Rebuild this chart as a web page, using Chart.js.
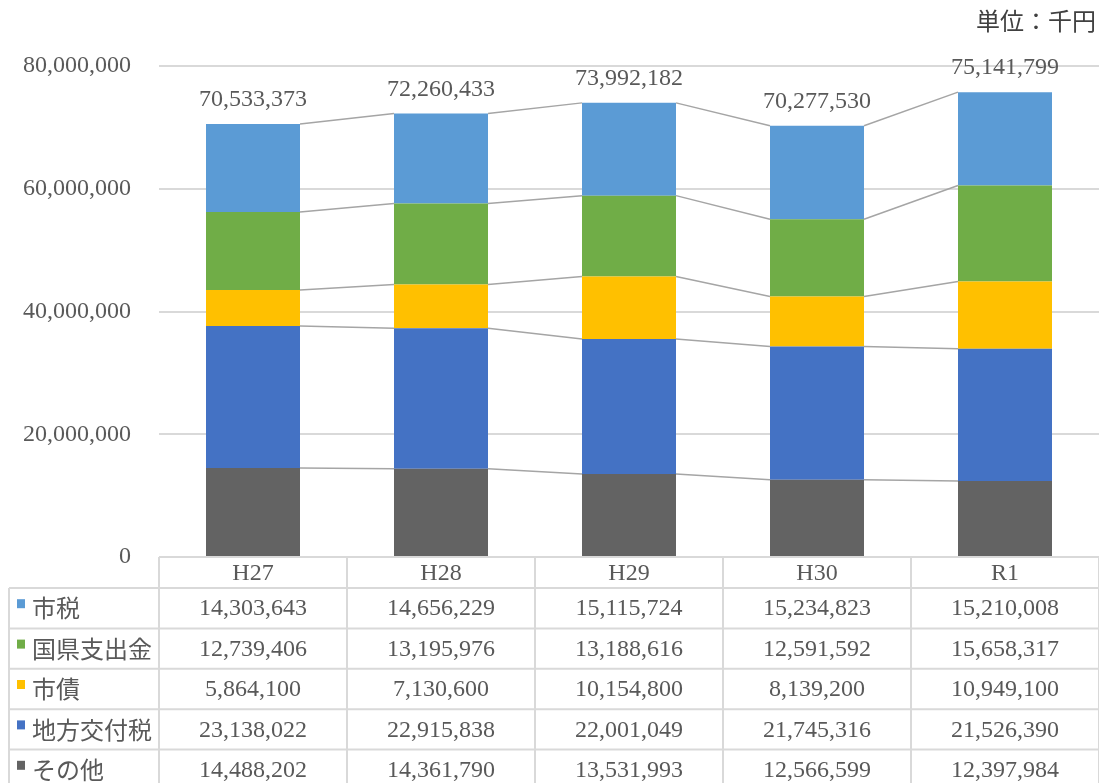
<!DOCTYPE html>
<html lang="ja">
<head>
<meta charset="utf-8">
<script src="https://cdn.jsdelivr.net/npm/chart.js@4/dist/chart.umd.min.js"></script>
<style>
  html, body { margin: 0; padding: 0; background: #fff; }
  #wrap { width: 1099px; height: 783px; position: relative; }
</style>
</head>
<body>
<div id="wrap"><canvas id="c" width="1099" height="783"></canvas></div>
<script>
// 年度
const categories = ['H27', 'H28', 'H29', 'H30', 'R1'];

// 歳入内訳（単位：千円）
const shizei   = [14303643, 14656229, 15115724, 15234823, 15210008]; // 市税
const kokken   = [12739406, 13195976, 13188616, 12591592, 15658317]; // 国県支出金
const shisai   = [5864100, 7130600, 10154800, 8139200, 10949100];    // 市債
const kofuzei  = [23138022, 22915838, 22001049, 21745316, 21526390]; // 地方交付税
const sonota   = [14488202, 14361790, 13531993, 12566599, 12397984]; // その他

// 合計欄の表示値
const totalLabels = [70533373, 72260433, 73992182, 70277530, 75141799];

// 軸目盛
const yTicks = [0, 20000000, 40000000, 60000000, 80000000];

const NUM_FONT = '"Liberation Serif", "DejaVu Serif", serif';
const JP_FONT = '"Noto Sans CJK JP", "Noto Sans", sans-serif';
const TEXT = '#595959';
const GRID = '#d9d9d9';

// 積み上げ順（下から）
const series = [
  { label: 'その他',     data: sonota,  color: '#636363' },
  { label: '地方交付税', data: kofuzei, color: '#4472c4' },
  { label: '市債',       data: shisai,  color: '#ffc000' },
  { label: '国県支出金', data: kokken,  color: '#70ad47' },
  { label: '市税',       data: shizei,  color: '#5b9bd5' }
];
// 表の並び（上から）
const tableRows = [series[4], series[3], series[2], series[1], series[0]];

const fmt = v => v.toLocaleString('en-US');

// 区分線（各系列の上端を隣の棒どうしで結ぶ）と合計ラベル
const seriesLines = {
  id: 'seriesLines',
  afterDatasetsDraw(chart) {
    const ctx = chart.ctx;
    ctx.save();
    ctx.strokeStyle = '#a5a5a5';
    ctx.lineWidth = 1.5;
    chart.data.datasets.forEach((ds, di) => {
      const bars = chart.getDatasetMeta(di).data;
      for (let i = 0; i < bars.length - 1; i++) {
        const a = bars[i], b = bars[i + 1];
        ctx.beginPath();
        ctx.moveTo(a.x + a.width / 2, a.y);
        ctx.lineTo(b.x - b.width / 2, b.y);
        ctx.stroke();
      }
    });
    const top = chart.getDatasetMeta(chart.data.datasets.length - 1).data;
    ctx.fillStyle = TEXT;
    ctx.font = '24px ' + NUM_FONT;
    ctx.textAlign = 'center';
    ctx.textBaseline = 'middle';
    top.forEach((bar, i) => {
      ctx.fillText(fmt(totalLabels[i]), bar.x, bar.y - 24);
    });
    ctx.restore();
  }
};

// データテーブル
const dataTable = {
  id: 'dataTable',
  afterDraw(chart) {
    const ctx = chart.ctx;
    const xs = chart.scales.x;
    const area = chart.chartArea;
    const step = (xs.getPixelForValue(1) - xs.getPixelForValue(0));
    const left = xs.getPixelForValue(0) - step / 2;
    const right = xs.getPixelForValue(categories.length - 1) + step / 2;
    const labelLeft = 9;
    const headTop = area.bottom;
    const headH = 31;
    const rowH = 40.4;
    const bodyTop = headTop + headH;

    ctx.save();
    ctx.strokeStyle = GRID;
    ctx.lineWidth = 2;
    // 横線
    ctx.beginPath();
    ctx.moveTo(left, headTop); ctx.lineTo(right, headTop);
    for (let r = 0; r <= tableRows.length; r++) {
      const y = bodyTop + r * rowH;
      ctx.moveTo(labelLeft, y); ctx.lineTo(right, y);
    }
    // 縦線
    const bottom = bodyTop + tableRows.length * rowH;
    ctx.moveTo(labelLeft, bodyTop); ctx.lineTo(labelLeft, bottom);
    for (let c = 0; c <= categories.length; c++) {
      const x = left + c * step;
      ctx.moveTo(x, headTop); ctx.lineTo(x, bottom);
    }
    ctx.stroke();

    ctx.fillStyle = TEXT;
    ctx.textBaseline = 'middle';
    ctx.textAlign = 'center';
    ctx.font = '24px ' + NUM_FONT;
    categories.forEach((c, i) => {
      ctx.fillText(c, xs.getPixelForValue(i), headTop + headH / 2 + 1);
    });
    tableRows.forEach((row, r) => {
      const cy = bodyTop + r * rowH + rowH / 2;
      ctx.textAlign = 'center';
      ctx.font = '24px ' + NUM_FONT;
      ctx.fillStyle = TEXT;
      row.data.forEach((v, i) => {
        ctx.fillText(fmt(v), xs.getPixelForValue(i), cy + 1);
      });
      ctx.fillStyle = row.color;
      ctx.fillRect(17, cy - 9, 8, 9);
      ctx.fillStyle = TEXT;
      ctx.textAlign = 'left';
      ctx.font = '24px ' + JP_FONT;
      ctx.fillText(row.label, 32, cy);
    });

    // 単位
    ctx.textAlign = 'right';
    ctx.font = '24px ' + JP_FONT;
    ctx.fillStyle = '#404040';
    ctx.fillText('単位：千円', 1096, 21);
    ctx.restore();
  }
};

new Chart(document.getElementById('c'), {
  type: 'bar',
  data: {
    labels: categories,
    datasets: series.map(s => ({
      label: s.label,
      data: s.data,
      backgroundColor: s.color,
      borderWidth: 0,
      categoryPercentage: 1,
      barPercentage: 0.5
    }))
  },
  options: {
    responsive: false,
    animation: false,
    layout: { padding: { top: 66, bottom: 226, left: 0, right: 0 } },
    plugins: { legend: { display: false }, tooltip: { enabled: false } },
    scales: {
      x: {
        stacked: true,
        display: false
      },
      y: {
        stacked: true,
        min: yTicks[0],
        max: yTicks[yTicks.length - 1],
        afterBuildTicks(scale) { scale.ticks = yTicks.map(v => ({ value: v })); },
        afterFit(scale) { scale.width = 159; },
        border: { display: false },
        grid: { color: GRID, lineWidth: 2, drawTicks: false },
        ticks: {
          padding: 28,
          color: TEXT,
          font: { family: NUM_FONT, size: 24 },
          callback: v => fmt(v)
        }
      }
    }
  },
  plugins: [seriesLines, dataTable]
});
</script>
</body>
</html>
